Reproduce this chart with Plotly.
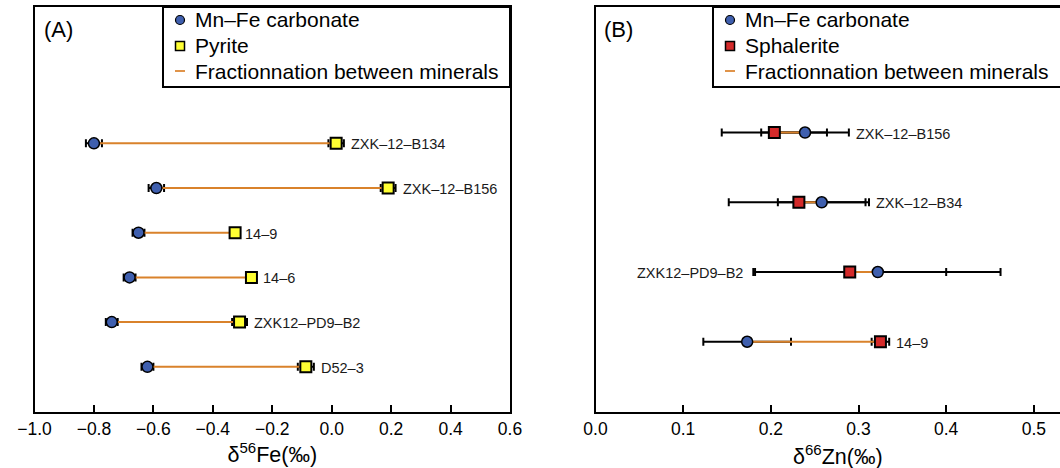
import plotly.graph_objects as go

# ---------------- data ----------------
fe_samples = ["ZXK–12–B134", "ZXK–12–B156", "14–9", "14–6", "ZXK12–PD9–B2", "D52–3"]
fe_carb = [-0.80, -0.59, -0.65, -0.68, -0.74, -0.62]
fe_carb_err = [0.027, 0.026, 0.02, 0.02, 0.02, 0.02]
fe_pyr = [0.015, 0.19, -0.325, -0.27, -0.31, -0.087]
fe_pyr_err = [0.026, 0.025, 0.01, 0.015, 0.025, 0.027]

zn_samples = ["ZXK–12–B156", "ZXK–12–B34", "ZXK12–PD9–B2", "14–9"]
zn_carb = [0.239, 0.258, 0.322, 0.173]
zn_carb_err = [0.05, 0.05, 0.14, 0.05]
zn_sph = [0.204, 0.232, 0.29, 0.325]
zn_sph_err = [0.06, 0.08, 0.11, 0.01]

fe_ticks = [-1.0, -0.8, -0.6, -0.4, -0.2, 0.0, 0.2, 0.4, 0.6]
zn_ticks = [0.0, 0.1, 0.2, 0.3, 0.4, 0.5]

legend_a = ["Mn–Fe carbonate", "Pyrite", "Fractionnation between minerals"]
legend_b = ["Mn–Fe carbonate", "Sphalerite", "Fractionnation between minerals"]

# ---------------- style ----------------
W, H = 1060, 468
FONT = "Liberation Sans, Arial, Helvetica, sans-serif"
BLUE = "#3f5fae"
YELLOW = "#ffff33"
RED = "#d42a2a"
ORANGE = "#d9822b"
zn_label_side = ["right", "right", "left", "right"]

PLOT_TOP, PLOT_BOT = 7, 411.5
A_L, A_R = 34.5, 510
B_L = 595.5

fig = go.Figure()


def px(xp, yp):
    return xp / W, 1 - yp / H


def add_panel(samples, carb, carb_err, other, other_err, other_color,
              xa, ya, label_side):
    # error bars (drawn first, under the fractionation line)
    for vals, errs in ((carb, carb_err), (other, other_err)):
        fig.add_trace(go.Scatter(
            x=vals, y=samples, mode="markers",
            marker=dict(size=2, opacity=0),
            error_x=dict(type="data", array=errs, color="black", thickness=2, width=4),
            xaxis=xa, yaxis=ya, showlegend=False, hoverinfo="skip"))
    # fractionation lines
    lx, ly = [], []
    for s, c, o in zip(samples, carb, other):
        lx += [c, o, None]
        ly += [s, s, None]
    fig.add_trace(go.Scatter(x=lx, y=ly, mode="lines",
                             line=dict(color=ORANGE, width=2),
                             xaxis=xa, yaxis=ya, showlegend=False, hoverinfo="skip"))
    # markers
    fig.add_trace(go.Scatter(x=carb, y=samples, mode="markers",
                             marker=dict(symbol="circle", size=11, color=BLUE,
                                         line=dict(color="black", width=1.5)),
                             xaxis=xa, yaxis=ya, showlegend=False))
    fig.add_trace(go.Scatter(x=other, y=samples, mode="markers",
                             marker=dict(symbol="square", size=11, color=other_color,
                                         line=dict(color="black", width=2)),
                             xaxis=xa, yaxis=ya, showlegend=False))
    # sample labels
    order = list(reversed(samples))
    for i, s in enumerate(samples):
        if label_side[i] == "right":
            xv = max(carb[i] + carb_err[i], other[i] + other_err[i])
            anchor, shift = "left", 5
        else:
            xv = min(carb[i] - carb_err[i], other[i] - other_err[i])
            anchor, shift = "right", -8
        fig.add_annotation(x=xv, y=order.index(s), xref=xa, yref=ya, text=s,
                           showarrow=False, xanchor=anchor, xshift=shift, yshift=-1,
                           font=dict(size=14.5, color="#1a1a1a", family=FONT))


def add_legend(x_left, x_right, names, other_color):
    rows = [20, 46, 71]
    x0, y0 = px(x_left, PLOT_TOP)
    x1, y1 = px(x_right, 87)
    fig.add_shape(type="rect", xref="paper", yref="paper", x0=x0, x1=x1, y0=y1, y1=y0,
                  line=dict(color="black", width=2), fillcolor="white", layer="above")
    sx = x_left + 17
    r = 4.5
    # circle
    a0, b0 = px(sx - r, rows[0] - r)
    a1, b1 = px(sx + r, rows[0] + r)
    fig.add_shape(type="circle", xref="paper", yref="paper", x0=a0, x1=a1, y0=b1, y1=b0,
                  line=dict(color="black", width=1.2), fillcolor=BLUE, layer="above")
    # square
    a0, b0 = px(sx - r, rows[1] - r)
    a1, b1 = px(sx + r, rows[1] + r)
    fig.add_shape(type="rect", xref="paper", yref="paper", x0=a0, x1=a1, y0=b1, y1=b0,
                  line=dict(color="black", width=1.5), fillcolor=other_color, layer="above")
    # dash
    a0, b0 = px(sx - 5, rows[2])
    a1, _ = px(sx + 5, rows[2])
    fig.add_shape(type="line", xref="paper", yref="paper", x0=a0, x1=a1, y0=b0, y1=b0,
                  line=dict(color="#e0944a", width=2), layer="above")
    for name, ry in zip(names, rows):
        tx, ty = px(x_left + 30, ry)
        fig.add_annotation(x=tx, y=ty, xref="paper", yref="paper", text=name,
                           showarrow=False, xanchor="left", yanchor="middle",
                           font=dict(size=21, family=FONT, color="black"))


add_panel(fe_samples, fe_carb, fe_carb_err, fe_pyr, fe_pyr_err, YELLOW,
          "x", "y", ["right"] * len(fe_samples))
add_panel(zn_samples, zn_carb, zn_carb_err, zn_sph, zn_sph_err, RED,
          "x2", "y2", zn_label_side)

add_legend(163, A_R, legend_a, YELLOW)
add_legend(713, W + 20, legend_b, RED)

ydom = [1 - PLOT_BOT / H, 1 - PLOT_TOP / H]
zn_px_per_unit = 876.7
zn_max = (W - B_L) / zn_px_per_unit

axis_common = dict(showline=True, linewidth=2, linecolor="black", showgrid=False,
                   zeroline=False, ticks="inside", ticklen=7, tickwidth=2,
                   tickcolor="black", tickfont=dict(size=17.5, color="black", family=FONT))

fig.update_layout(
    width=W, height=H,
    margin=dict(l=0, r=0, t=0, b=0, autoexpand=False),
    paper_bgcolor="white", plot_bgcolor="white",
    font=dict(family=FONT, color="black"),
    showlegend=False,
    xaxis=dict(domain=[A_L / W, A_R / W], range=[-1.0, 0.6], tickvals=fe_ticks,
               tickformat=".1f", mirror=True, anchor="y",
               title=dict(text="δ<sup>56</sup>Fe(‰)", font=dict(size=21.5), standoff=9),
               **axis_common),
    yaxis=dict(domain=ydom, type="category", categoryorder="array",
               categoryarray=list(reversed(fe_samples)), range=[-1, 8.05],
               showline=True, linewidth=2, linecolor="black", mirror=True,
               showticklabels=False, ticks="", showgrid=False, zeroline=False, anchor="x"),
    xaxis2=dict(domain=[B_L / W, 1.0], range=[0, zn_max], tickvals=zn_ticks,
                tickformat=".1f", mirror=True, anchor="y2", **axis_common),
    yaxis2=dict(domain=ydom, type="category", categoryorder="array",
                categoryarray=list(reversed(zn_samples)), range=[-1, 4.8],
                showline=True, linewidth=2, linecolor="black", mirror=False,
                showticklabels=False, ticks="", showgrid=False, zeroline=False, anchor="x2"),
)

# panel letters
fig.add_annotation(x=42 / W, y=1 - 30 / H, xref="paper", yref="paper", text="(A)",
                   showarrow=False, xanchor="left", yanchor="middle",
                   font=dict(size=22, family=FONT, color="black"))
fig.add_annotation(x=602 / W, y=1 - 30 / H, xref="paper", yref="paper", text="(B)",
                   showarrow=False, xanchor="left", yanchor="middle",
                   font=dict(size=22, family=FONT, color="black"))
# x-axis title of the (cropped) right panel
fig.add_annotation(x=837.5 / W, y=1 - 455 / H, xref="paper", yref="paper",
                   text="δ<sup>66</sup>Zn(‰)", showarrow=False,
                   xanchor="center", yanchor="middle",
                   font=dict(size=21.5, family=FONT, color="black"))

fig.write_html("out.html")
